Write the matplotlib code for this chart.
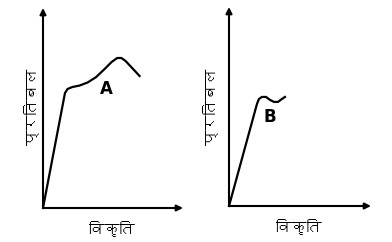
import matplotlib
matplotlib.use("Agg")
import matplotlib.pyplot as plt
from matplotlib import font_manager
from matplotlib.ft2font import FT2Font

# find a font that has Devanagari glyphs
deva_fonts = []
for f in font_manager.fontManager.ttflist:
    try:
        if FT2Font(f.fname).get_char_index(0x092A):
            deva_fonts.append(f.name)
    except Exception:
        pass
families = list(dict.fromkeys(deva_fonts)) + ['DejaVu Sans']

# curve A (ductile material)
strain_a = [0, 1.57, 1.75, 2.1, 2.6, 3.2, 3.8, 4.4, 4.9, 5.3, 5.6, 5.9, 6.3, 6.9]
stress_a = [0, 5.75, 5.95, 6.05, 6.12, 6.28, 6.55, 6.95, 7.3, 7.5, 7.5, 7.35, 7.05, 6.6]

# curve B
strain_b = [0, 1.97, 2.11, 2.32, 2.61, 2.89, 3.17, 3.45, 3.73, 3.94]
stress_b = [0, 5.13, 5.38, 5.48, 5.48, 5.33, 5.23, 5.23, 5.38, 5.48]

ylabel = 'प्रतिबल'
xlabel = 'विकृति'

fig = plt.figure(figsize=(3.92, 2.42), dpi=100)
ax1 = fig.add_axes([43/392, 34/242, 140/392, 200/242])
ax2 = fig.add_axes([229/392, 36/242, 142/392, 199/242])

panels = [(ax1, strain_a, stress_a, 'A', (4.5, 5.95), (-0.8, 5.05)),
          (ax2, strain_b, stress_b, 'B', (2.89, 4.47), (-1.27, 4.97))]

for ax, x, y, name, lab_pos, ylab_pos in panels:
    ax.set_xlim(0, 10)
    ax.set_ylim(0, 10)
    ax.axis('off')
    ax.plot(x, y, color='black', lw=1.6, clip_on=False, solid_joinstyle='round')
    # axes arrows
    arrow = dict(arrowstyle='-|>', color='black', lw=1.5, mutation_scale=9, shrinkA=0, shrinkB=0)
    ax.annotate('', xy=(10, 0), xytext=(0, 0), arrowprops=arrow, annotation_clip=False)
    ax.annotate('', xy=(0, 10), xytext=(0, 0), arrowprops=arrow, annotation_clip=False)
    ax.text(lab_pos[0], lab_pos[1], name, fontsize=12, fontweight='bold', ha='center', va='center')
    ax.text(ylab_pos[0], ylab_pos[1], ylabel, rotation=90, fontsize=11, fontweight='bold',
            ha='center', va='center', family=families, clip_on=False)
    ax.text(4.93, -1.05, xlabel, fontsize=11, fontweight='bold', ha='center', va='center',
            family=families, clip_on=False)

plt.savefig('out.png', dpi=100)
